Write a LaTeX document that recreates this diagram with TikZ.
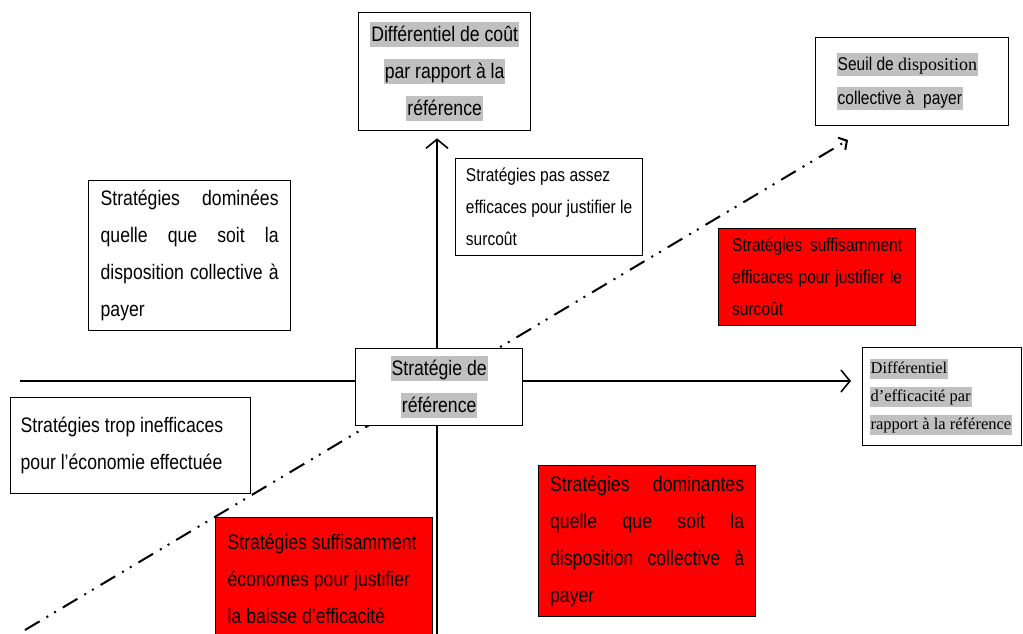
\documentclass[tikz,border=0pt]{standalone}
\usepackage{fontspec}
\setmainfont{Liberation Sans}[FakeStretch=0.84]
\newfontfamily\timesfont{Liberation Serif}
\usetikzlibrary{arrows.meta,backgrounds}
\definecolor{hlgrey}{RGB}{192,192,192}
\newcommand{\greyhl}[1]{{\setlength{\fboxsep}{1pt}\colorbox{hlgrey}{\rule[-0.24em]{0pt}{1.1em}#1}}}
\tolerance=9999
\hbadness=10000

\begin{document}
\begin{tikzpicture}[x=1pt, y=-1pt,
  box/.style={draw, line width=1.3pt, fill=white, inner sep=0pt, anchor=north west},
  redbox/.style={box, fill=red},
  bigtxt/.style={font=\fontsize{21}{37}\selectfont},
  smalltxt/.style={font=\fontsize{18.5}{32}\selectfont},
  axisline/.style={line width=1.6pt, -{Straight Barb[length=9pt,width=22pt]}},
  seuilline/.style={line width=2pt, dash pattern=on 17pt off 8pt on 2pt off 7pt on 2pt off 8pt,
                    -{Straight Barb[length=6pt,width=14pt]}}
]
  \useasboundingbox (0,0) rectangle (1023,633);

  % Axes labels and reference
  \node[box, bigtxt, align=center, minimum width=172, minimum height=118] (cout) at (358,12)
    {\greyhl{Différentiel de coût}\\\greyhl{par rapport à la}\\\greyhl{référence}};
  \node[box, bigtxt, align=center, minimum width=167, minimum height=77] (ref) at (355,348)
    {\greyhl{Stratégie de}\\\greyhl{référence}};
  \node[box, align=flush left, text width=145pt, minimum width=159, minimum height=98,
        font=\timesfont\fontsize{16.5}{28}\selectfont] (eff) at (862,347)
    {\greyhl{Différentiel}\\\greyhl{d’efficacité par}\\\greyhl{rapport à la référence}\par\vspace{8pt}};
  \node[box, align=flush left, text width=151pt, minimum width=193, minimum height=88,
        font=\fontsize{18.5}{34}\selectfont] (seuil) at (815,37)
    {\greyhl{Seuil de {\timesfont\fontsize{18}{34}\selectfont disposition}}\\\greyhl{collective à\ \ payer}\par\vspace{12pt}};

  % Quadrant boxes
  \node[box, bigtxt, align=justify, text width=178pt, minimum width=202, minimum height=150] (dominees) at (88,180)
    {Stratégies dominées\linebreak quelle que soit la\linebreak disposition collective à\linebreak payer};
  \node[box, smalltxt, align=left, minimum width=187, minimum height=97] (pasassez) at (455,158)
    {Stratégies pas assez\\efficaces pour justifier le\\surcoût};
  \node[redbox, smalltxt, align=justify, text width=170pt, minimum width=197, minimum height=97] (suffeff) at (718,228)
    {Stratégies suffisamment\linebreak efficaces pour justifier le\linebreak surcoût};
  \node[box, bigtxt, align=flush left, text width=220pt, minimum width=240, minimum height=96] (tropineff) at (10,397)
    {Stratégies trop inefficaces\\pour l’économie effectuée\par\vspace{26pt}};
  \node[redbox, bigtxt, align=flush left, text width=193pt, minimum width=217, minimum height=123] (econ) at (215,517)
    {Stratégies suffisamment\\économes pour justifier\\la baisse d’efficacité\par\vspace{15pt}};
  \node[redbox, bigtxt, align=justify, text width=194pt, minimum width=217, minimum height=151] (dominantes) at (538,465)
    {Stratégies dominantes\linebreak quelle que soit la\linebreak disposition collective à\linebreak payer};

  % Axes and threshold line behind the boxes
  \coordinate (xleft) at (20,381);
  \coordinate (xright) at (851,381);
  \coordinate (ybot) at (437,640);
  \coordinate (dstart) at (25,630);
  \coordinate (dend) at (848,140);
  \begin{scope}[on background layer]
    \draw[axisline] (xleft) -- (xright);
    \draw[axisline, shorten >=7pt] (ybot) -- (ybot |- cout.south);
    \draw[seuilline] (dstart) -- (dend);
  \end{scope}
\end{tikzpicture}
\end{document}
